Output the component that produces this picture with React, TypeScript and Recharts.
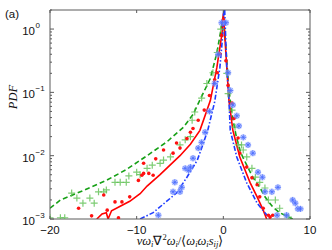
import React from "react";
import { ComposedChart, Line, Scatter, XAxis, YAxis } from "recharts";

// ─── Axis ticks ───────────────────────────────────────────
const xTicks = [-20, -10, 0, 10];
const yTicks = [
  0.001, 0.002, 0.003, 0.004, 0.005, 0.006, 0.007, 0.008, 0.009,
  0.01, 0.02, 0.03, 0.04, 0.05, 0.06, 0.07, 0.08, 0.09,
  0.1, 0.2, 0.3, 0.4, 0.5, 0.6, 0.7, 0.8, 0.9,
  1, 2,
];
const yMajor = [0.001, 0.01, 0.1, 1];
const yMajorExp = ["-3", "-2", "-1", "0"];

// ─── Series (x, log10 PDF) ────────────────────────────────
const redLineX = [-14.6, -14.0, -13.5, -13.3, -12.9, -11.9, -10.8, -9.6, -8.8, -7.3, -6.0, -5.0, -3.8, -2.7, -1.5, -0.75, -0.15, 0, 0.4, 0.65, 1.1, 1.9, 3.1, 3.9, 4.6, 5.0];
const redLineLog = [-3.0, -2.92, -2.9, -3.0, -2.87, -2.8, -2.72, -2.6, -2.48, -2.3, -2.13, -2.0, -1.82, -1.6, -1.13, -0.61, -0.07, 0.25, -0.61, -1.13, -1.6, -2.02, -2.43, -2.65, -2.86, -3.0];

const greenLineX = [-20, -18.8, -16.5, -13.5, -11.2, -8.8, -6.5, -4.6, -3.5, -2.7, -1.5, -0.75, 0, 0.3, 0.6, 1.0, 1.5, 2.0, 2.7, 3.4, 4.2, 4.8, 5.7, 6.5, 7.7, 8.0];
const greenLineLog = [-2.83, -2.7, -2.57, -2.39, -2.22, -2.0, -1.78, -1.55, -1.35, -1.12, -0.78, -0.38, 0.2, -0.3, -0.9, -1.35, -1.7, -1.95, -2.15, -2.34, -2.5, -2.65, -2.81, -2.9, -2.98, -3.0];

const blueLineX = [-9.6, -8.1, -6.1, -5.4, -4.2, -3.0, -2.3, -1.8, -1.0, -0.4, -0.05, 0.1, 0.4, 0.65, 0.8, 1.55, 2.7, 3.9, 5.4];
const blueLineLog = [-3.0, -2.9, -2.67, -2.59, -2.34, -2.07, -1.8, -1.6, -1.15, -0.61, -0.07, 0.5, -0.61, -1.13, -1.6, -2.02, -2.43, -2.75, -3.0];

const redDotX = [-16.7, -15.2, -13.8, -13.4, -12.5, -12.1, -11.7, -10.8, -9.8, -9.4, -9.2, -8.6, -8.1, -9.2, -7.8, -6.9, -5.8, -5.4, -5.0, -4.2, -3.8, -3.5, -2.9, -2.2, -1.6, -1.0, -0.7, -0.4, -0.2, 0, 0.3, 0.55, 1.0, 1.25, 1.7, 1.9, 2.7, 3.3, 3.9, 4.2, 4.6, 5.2, 5.7, 5.4];
const redDotLog = [-2.83, -2.95, -2.62, -2.86, -2.73, -2.98, -2.73, -2.65, -2.39, -2.31, -2.28, -2.28, -2.31, -2.12, -2.05, -1.91, -1.96, -1.8, -1.88, -1.73, -1.63, -1.57, -1.44, -1.28, -1.05, -0.8, -0.69, -0.39, -0.1, 0.15, -0.5, -0.89, -1.17, -1.41, -1.72, -1.96, -2.18, -2.35, -2.46, -2.65, -2.83, -2.94, -2.94, -2.97];

const greenPlusX = [-20, -18.8, -18.3, -17.5, -16.9, -16.2, -15.4, -14.9, -14.4, -13.8, -13.5, -12.5, -11.9, -11.2, -10.9, -10.0, -9.6, -8.8, -8.2, -7.3, -6.9, -6.1, -5.0, -4.4, -3.8, -3.6, -3.3, -2.5, -1.9, -1.2, -0.7, -0.3, 0.4, 0.55, 1.0, 1.35, 1.7, 2.1, 2.3, 2.7, 3.3, 3.7, 4.2, 4.8, 5.2, 6.0, 6.5, 7.5];
const greenPlusLog = [-2.98, -2.98, -2.98, -2.59, -2.67, -2.75, -2.67, -2.75, -2.57, -2.57, -2.54, -2.42, -2.42, -2.42, -2.32, -2.26, -2.3, -2.2, -2.15, -2.12, -2.07, -2.02, -1.83, -1.75, -1.7, -1.44, -1.31, -1.09, -0.86, -0.69, -0.37, 0.0, -0.7, -1.02, -1.28, -1.55, -1.83, -1.83, -1.91, -2.02, -2.2, -2.34, -2.42, -2.51, -2.7, -2.7, -2.83, -2.97];

const blueStarX = [-7.5, -5.8, -5.6, -5.0, -4.8, -4.4, -4.0, -3.8, -3.5, -2.9, -2.5, -2.1, -1.6, -1.0, -0.6, -0.2, 0.3, 0.55, 0.8, 1.1, 1.55, 1.8, 2.3, 2.85, 3.4, 4.0, 4.5, 4.8, 5.6, 6.3, 6.2, 7.3, 8.0, 8.3, 8.6, 8.9];
const blueStarLog = [-2.94, -2.57, -2.42, -2.57, -2.5, -2.2, -2.23, -2.18, -2.04, -1.88, -1.79, -1.63, -1.3, -0.86, -0.4, 0.1, 0.1, -0.69, -0.97, -1.2, -1.37, -1.53, -1.71, -1.83, -1.96, -2.26, -2.34, -2.57, -2.57, -2.5, -2.94, -2.94, -2.7, -2.75, -2.84, -2.84];

const toPoints = (xs: number[], logs: number[]) =>
  xs.map((x, i) => ({ x, y: Math.pow(10, logs[i]) }));

const redLine = toPoints(redLineX, redLineLog);
const greenLine = toPoints(greenLineX, greenLineLog);
const blueLine = toPoints(blueLineX, blueLineLog);
const redDots = toPoints(redDotX, redDotLog);
const greenPlus = toPoints(greenPlusX, greenPlusLog);
const blueStars = toPoints(blueStarX, blueStarLog);

const FRAME = "#5a5a5a";
const TICK_FONT = "'Liberation Sans', Arial, sans-serif";

// ─── Marker shapes ────────────────────────────────────────
const RedDot = (p: any) => <circle cx={ p.cx } cy={ p.cy } r={ 1.8 } fill="#ff1010" />;

const GreenPlus = (p: any) => (
  <path
    d={ `M${p.cx - 3.5},${p.cy}H${p.cx + 3.5}M${p.cx},${p.cy - 3.5}V${p.cy + 3.5}` }
    stroke="#5cbf50"
    strokeOpacity={ 0.8 }
    strokeWidth={ 1.2 }
  />
);

const BlueStar = (p: any) => (
  <g>
    <circle cx={ p.cx } cy={ p.cy } r={ 3.2 } fill="#8fa6ff" fillOpacity={ 0.55 } />
    <path
      d={ `M${p.cx - 3},${p.cy}H${p.cx + 3}M${p.cx},${p.cy - 3}V${p.cy + 3}` +
        `M${p.cx - 2},${p.cy - 2}L${p.cx + 2},${p.cy + 2}M${p.cx - 2},${p.cy + 2}L${p.cx + 2},${p.cy - 2}` }
      stroke="#4a6cff"
      strokeWidth={ 0.8 }
    />
  </g>
);

// ─── Tick renderers (inward MATLAB style) ─────────────────
const BottomTick = ({ x, y, payload }: any) => (
  <g>
    <line x1={ x } y1={ y } x2={ x } y2={ y - 3 } stroke={ FRAME } />
    <text x={ x } y={ y + 15 } textAnchor="middle" fontSize={ 11.5 } fontFamily={ TICK_FONT } fill="#111">
      { payload.value < 0 ? `\u2212${Math.abs(payload.value)}` : payload.value }
    </text>
  </g>
);

const TopTick = ({ x, y }: any) => (
  <line x1={ x } y1={ y } x2={ x } y2={ y + 3 } stroke={ FRAME } />
);

const LeftTick = ({ x, y, payload }: any) => {
  const idx = yMajor.findIndex(v => Math.abs(v - payload.value) < 1e-9);
  const major = idx >= 0;
  return (
    <g>
      <line x1={ x } y1={ y } x2={ x + (major ? 4 : 2) } y2={ y } stroke={ FRAME } />
      { major && (
        <text x={ x - 15 } y={ y + 6 } textAnchor="end" fontSize={ 11.5 } fontFamily={ TICK_FONT } fill="#111">
          10
        </text>
      ) }
      { major && (
        <text x={ x - 14.5 } y={ y - 1 } textAnchor="start" fontSize={ 8 } fontFamily={ TICK_FONT } fill="#111">
          { yMajorExp[ idx ].replace("-", "\u2212") }
        </text>
      ) }
    </g>
  );
};

const RightTick = ({ x, y, payload }: any) => {
  const major = yMajor.some(v => Math.abs(v - payload.value) < 1e-9);
  return <line x1={ x } y1={ y } x2={ x - (major ? 4 : 2) } y2={ y } stroke={ FRAME } />;
};

const serif = "'Liberation Serif', 'Times New Roman', serif";
const subStyle = { fontSize: 8.5, verticalAlign: "-2px", lineHeight: 0 };
const supStyle = { fontSize: 8.5, verticalAlign: "5px", lineHeight: 0 };

export default function App() {
  return (
    <div style={ { position: "absolute", left: 0, top: 0, width: 332, height: 250, background: "#fff", overflow: "hidden" } }>
      <ComposedChart
        width={ 332 }
        height={ 250 }
        margin={ { top: 9, right: 21, bottom: 0, left: 0 } }
      >
        <XAxis
          xAxisId="b"
          dataKey="x"
          type="number"
          domain={ [ -20, 10 ] }
          ticks={ xTicks }
          allowDataOverflow
          orientation="bottom"
          height={ 31 }
          tickSize={ 0 }
          tickMargin={ 0 }
          tickLine={ false }
          axisLine={ { stroke: FRAME } }
          tick={ <BottomTick /> }
          interval={ 0 }
        />
        <XAxis
          xAxisId="t"
          dataKey="x"
          type="number"
          domain={ [ -20, 10 ] }
          ticks={ xTicks }
          allowDataOverflow
          orientation="top"
          height={ 1 }
          tickSize={ 0 }
          tickMargin={ 0 }
          tickLine={ false }
          axisLine={ { stroke: FRAME } }
          tick={ <TopTick /> }
          interval={ 0 }
        />
        <YAxis
          yAxisId="l"
          type="number"
          scale="log"
          domain={ [ 0.001, 2 ] }
          ticks={ yTicks }
          allowDataOverflow
          orientation="left"
          width={ 50 }
          tickSize={ 0 }
          tickMargin={ 0 }
          tickLine={ false }
          axisLine={ { stroke: FRAME } }
          tick={ <LeftTick /> }
          interval={ 0 }
        />
        <YAxis
          yAxisId="r"
          type="number"
          scale="log"
          domain={ [ 0.001, 2 ] }
          ticks={ yTicks }
          allowDataOverflow
          orientation="right"
          width={ 1 }
          tickSize={ 0 }
          tickMargin={ 0 }
          tickLine={ false }
          axisLine={ { stroke: FRAME } }
          tick={ <RightTick /> }
          interval={ 0 }
        />

        <Line xAxisId="b" yAxisId="l" data={ greenLine } dataKey="y" type="linear" stroke="#16a016" strokeWidth={ 1.6 } strokeDasharray="5 3" dot={ false } isAnimationActive={ false } />
        <Line xAxisId="b" yAxisId="l" data={ redLine } dataKey="y" type="linear" stroke="#ff0000" strokeWidth={ 1.6 } dot={ false } isAnimationActive={ false } />
        <Line xAxisId="b" yAxisId="l" data={ blueLine } dataKey="y" type="linear" stroke="#1f3cff" strokeWidth={ 1.6 } strokeDasharray="5 2 1.5 2" dot={ false } isAnimationActive={ false } />

        <Scatter xAxisId="b" yAxisId="l" data={ greenPlus } dataKey="y" shape={ GreenPlus } isAnimationActive={ false } />
        <Scatter xAxisId="b" yAxisId="l" data={ redDots } dataKey="y" shape={ RedDot } isAnimationActive={ false } />
        <Scatter xAxisId="b" yAxisId="l" data={ blueStars } dataKey="y" shape={ BlueStar } isAnimationActive={ false } />
      </ComposedChart>

      <div style={ { position: "absolute", left: 5, top: 8, fontSize: 11.5, fontFamily: TICK_FONT, color: "#111" } }>
        (a)
      </div>
      <div
        style={ {
          position: "absolute", left: 13, top: 97, transform: "translate(-50%, -50%) rotate(-90deg)",
          fontFamily: serif, fontStyle: "italic", fontSize: 12.5, color: "#111", whiteSpace: "nowrap",
        } }
      >
        PDF
      </div>
      <div
        style={ {
          position: "absolute", left: 180, top: 241, transform: "translate(-50%, -50%)",
          fontFamily: serif, fontSize: 12.5, color: "#111", whiteSpace: "nowrap", lineHeight: "14px",
        } }
      >
        <i>νω</i><span style={ subStyle }><i>i</i></span>∇<span style={ supStyle }>2</span>
        <i>ω</i><span style={ subStyle }><i>i</i></span>/⟨<i>ω</i><span style={ subStyle }><i>i</i></span>
        <i>ω</i><span style={ subStyle }><i>i</i></span><i>s</i><span style={ subStyle }><i>ij</i></span>⟩
      </div>
    </div>
  );
}
